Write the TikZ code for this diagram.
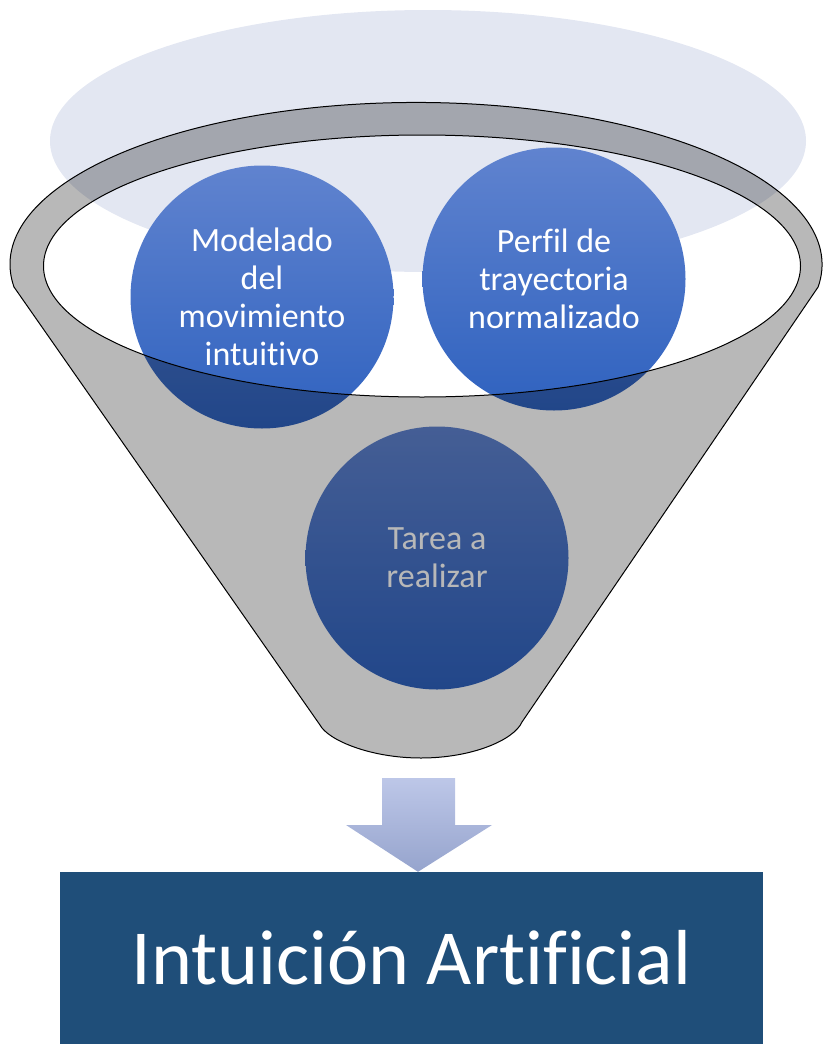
\documentclass[tikz,border=0pt]{standalone}
\usepackage{fontspec}
\setmainfont[Ligatures=NoCommon]{Carlito}
\usetikzlibrary{positioning}
\definecolor{haze}{RGB}{227,231,242}
\definecolor{balltop}{RGB}{96,131,207}
\definecolor{ballbot}{RGB}{47,98,191}
\definecolor{arrowtop}{RGB}{189,199,232}
\definecolor{arrowbot}{RGB}{150,164,205}
\definecolor{resultbox}{RGB}{31,78,121}
\tikzset{
    x=1pt, y=-1pt,
    idea/.style={circle, minimum size=263pt, inner sep=0pt, align=center,
        top color=balltop, bottom color=ballbot, text=white,
        font=\fontsize{34}{38}\selectfont},
    funnel body/.style={fill=black, fill opacity=0.28, even odd rule},
    funnel line/.style={draw=black, line width=1pt},
    down arrow/.style={top color=arrowtop, bottom color=arrowbot},
    result/.style={fill=resultbox, text=white, inner sep=0pt,
        minimum width=703pt, minimum height=172pt,
        font=\fontsize{78}{86}\selectfont}
}
\begin{document}
\begin{tikzpicture}
    \useasboundingbox (0,0) rectangle (822,1044);
    \fill[haze] (428,141) ellipse [x radius=378pt, y radius=131pt];
    \node[idea] (modelado) at (262,297) {Modelado\\del\\movimiento\\intuitivo};
    \node[idea] (perfil) at (554,279) {Perfil de\\trayectoria\\normalizado};
    \node[idea] (tarea) at (437,558) {Tarea a\\realizar};
    \coordinate (rimL) at (14,287);
    \coordinate (spoutR) at (522,722);
    \coordinate (spoutB) at (421,758);
    \coordinate (spoutL) at (320,725);
    \path[funnel body]
        (rimL) arc[start angle=188, end angle=-8, x radius=406pt, y radius=162pt]
        -- (spoutR) .. controls (514,740) and (472,758) .. (spoutB)
        .. controls (370,758) and (328,740) .. (spoutL) -- cycle
        (422,266) ellipse [x radius=378.5pt, y radius=131pt];
    \draw[funnel line]
        (rimL) arc[start angle=188, end angle=-8, x radius=406pt, y radius=162pt]
        -- (spoutR) .. controls (514,740) and (472,758) .. (spoutB)
        .. controls (370,758) and (328,740) .. (spoutL) -- cycle;
    \draw[funnel line] (422,266) ellipse [x radius=378.5pt, y radius=131pt];
    \node[result] (intuicion) at (411.5,958) {Intuición Artificial};
    \path[down arrow] (382,778) -- (455,778) -- (455,825) -- (492,825)
        -- (intuicion.north -| 418,0) -- (346,825) -- (382,825) -- cycle;
\end{tikzpicture}
\end{document}
